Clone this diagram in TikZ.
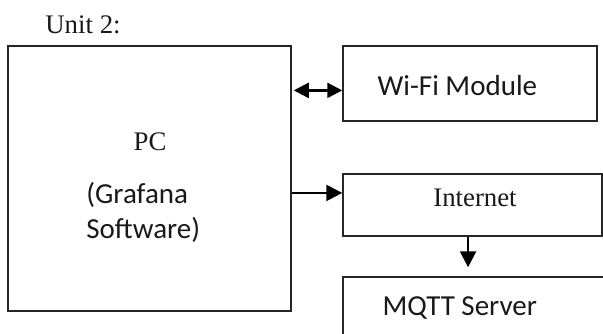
\documentclass[tikz,border=0pt]{standalone}
\usepackage{fontspec}
\setmainfont{Liberation Serif}
\newfontfamily\calibri{Carlito}
\usetikzlibrary{arrows.meta, calc}

\begin{document}
\begin{tikzpicture}[x=0.5pt, y=-0.5pt,
  box/.style={draw=black!85, line width=0.75pt, rectangle, inner sep=0pt},
  serif/.style={font=\fontsize{13.4}{15}\selectfont, text=black!90, inner sep=0pt},
  sans/.style={font=\calibri\fontsize{14.5}{17.5}\selectfont, text=black!90, inner sep=0pt},
  arr/.style={line width=1.2pt, -{Triangle[length=8pt, width=8pt]}},
  dblarr/.style={line width=1.2pt, {Triangle[length=7.5pt, width=7.5pt]}-{Triangle[length=7.5pt, width=7.5pt]}}]
\clip (0,0) rectangle (603,333);
\path (0,0) rectangle (603,333);
\node[serif, anchor=base west] (unit) at (45,33) {Unit 2:};
\node[box, minimum width=141.5pt, minimum height=132.5pt] (pc) at (149.5,178.5) {};
\node[box, minimum width=127pt, minimum height=37.5pt] (wifi) at (470,83.5) {};
\node[box, minimum width=129.5pt, minimum height=31pt] (inet) at (472.5,205) {};
\node[box, minimum width=140pt, minimum height=31pt] (mqtt) at (483,308) {};
\node[serif, anchor=base] (pctxt) at (150,150) {PC};
\node[sans, anchor=base west, align=left] (grafana) at (86,238) {(Grafana\\Software)};
\node[sans, anchor=west] (wifitxt) at ([xshift=17.5pt, yshift=-0.8pt]wifi.west) {Wi-Fi Module};
\node[serif, anchor=base] (inettxt) at (475,206) {Internet};
\node[sans, anchor=west] (mqtttxt) at ([xshift=20pt]mqtt.west) {MQTT Server};
\coordinate (w) at ($(wifi.north west)!0.59!(wifi.south west)$);
\coordinate (i) at ($(inet.north west)!0.31!(inet.south west)$);
\coordinate (d) at ($(inet.south west)!0.483!(inet.south east)$);
\draw[dblarr] ([xshift=1pt]pc.east |- w) -- (w);
\draw[arr] (pc.east |- i) -- (i);
\draw[arr, shorten >=4.5pt] (d) -- (mqtt.north -| d);
\end{tikzpicture}
\end{document}
